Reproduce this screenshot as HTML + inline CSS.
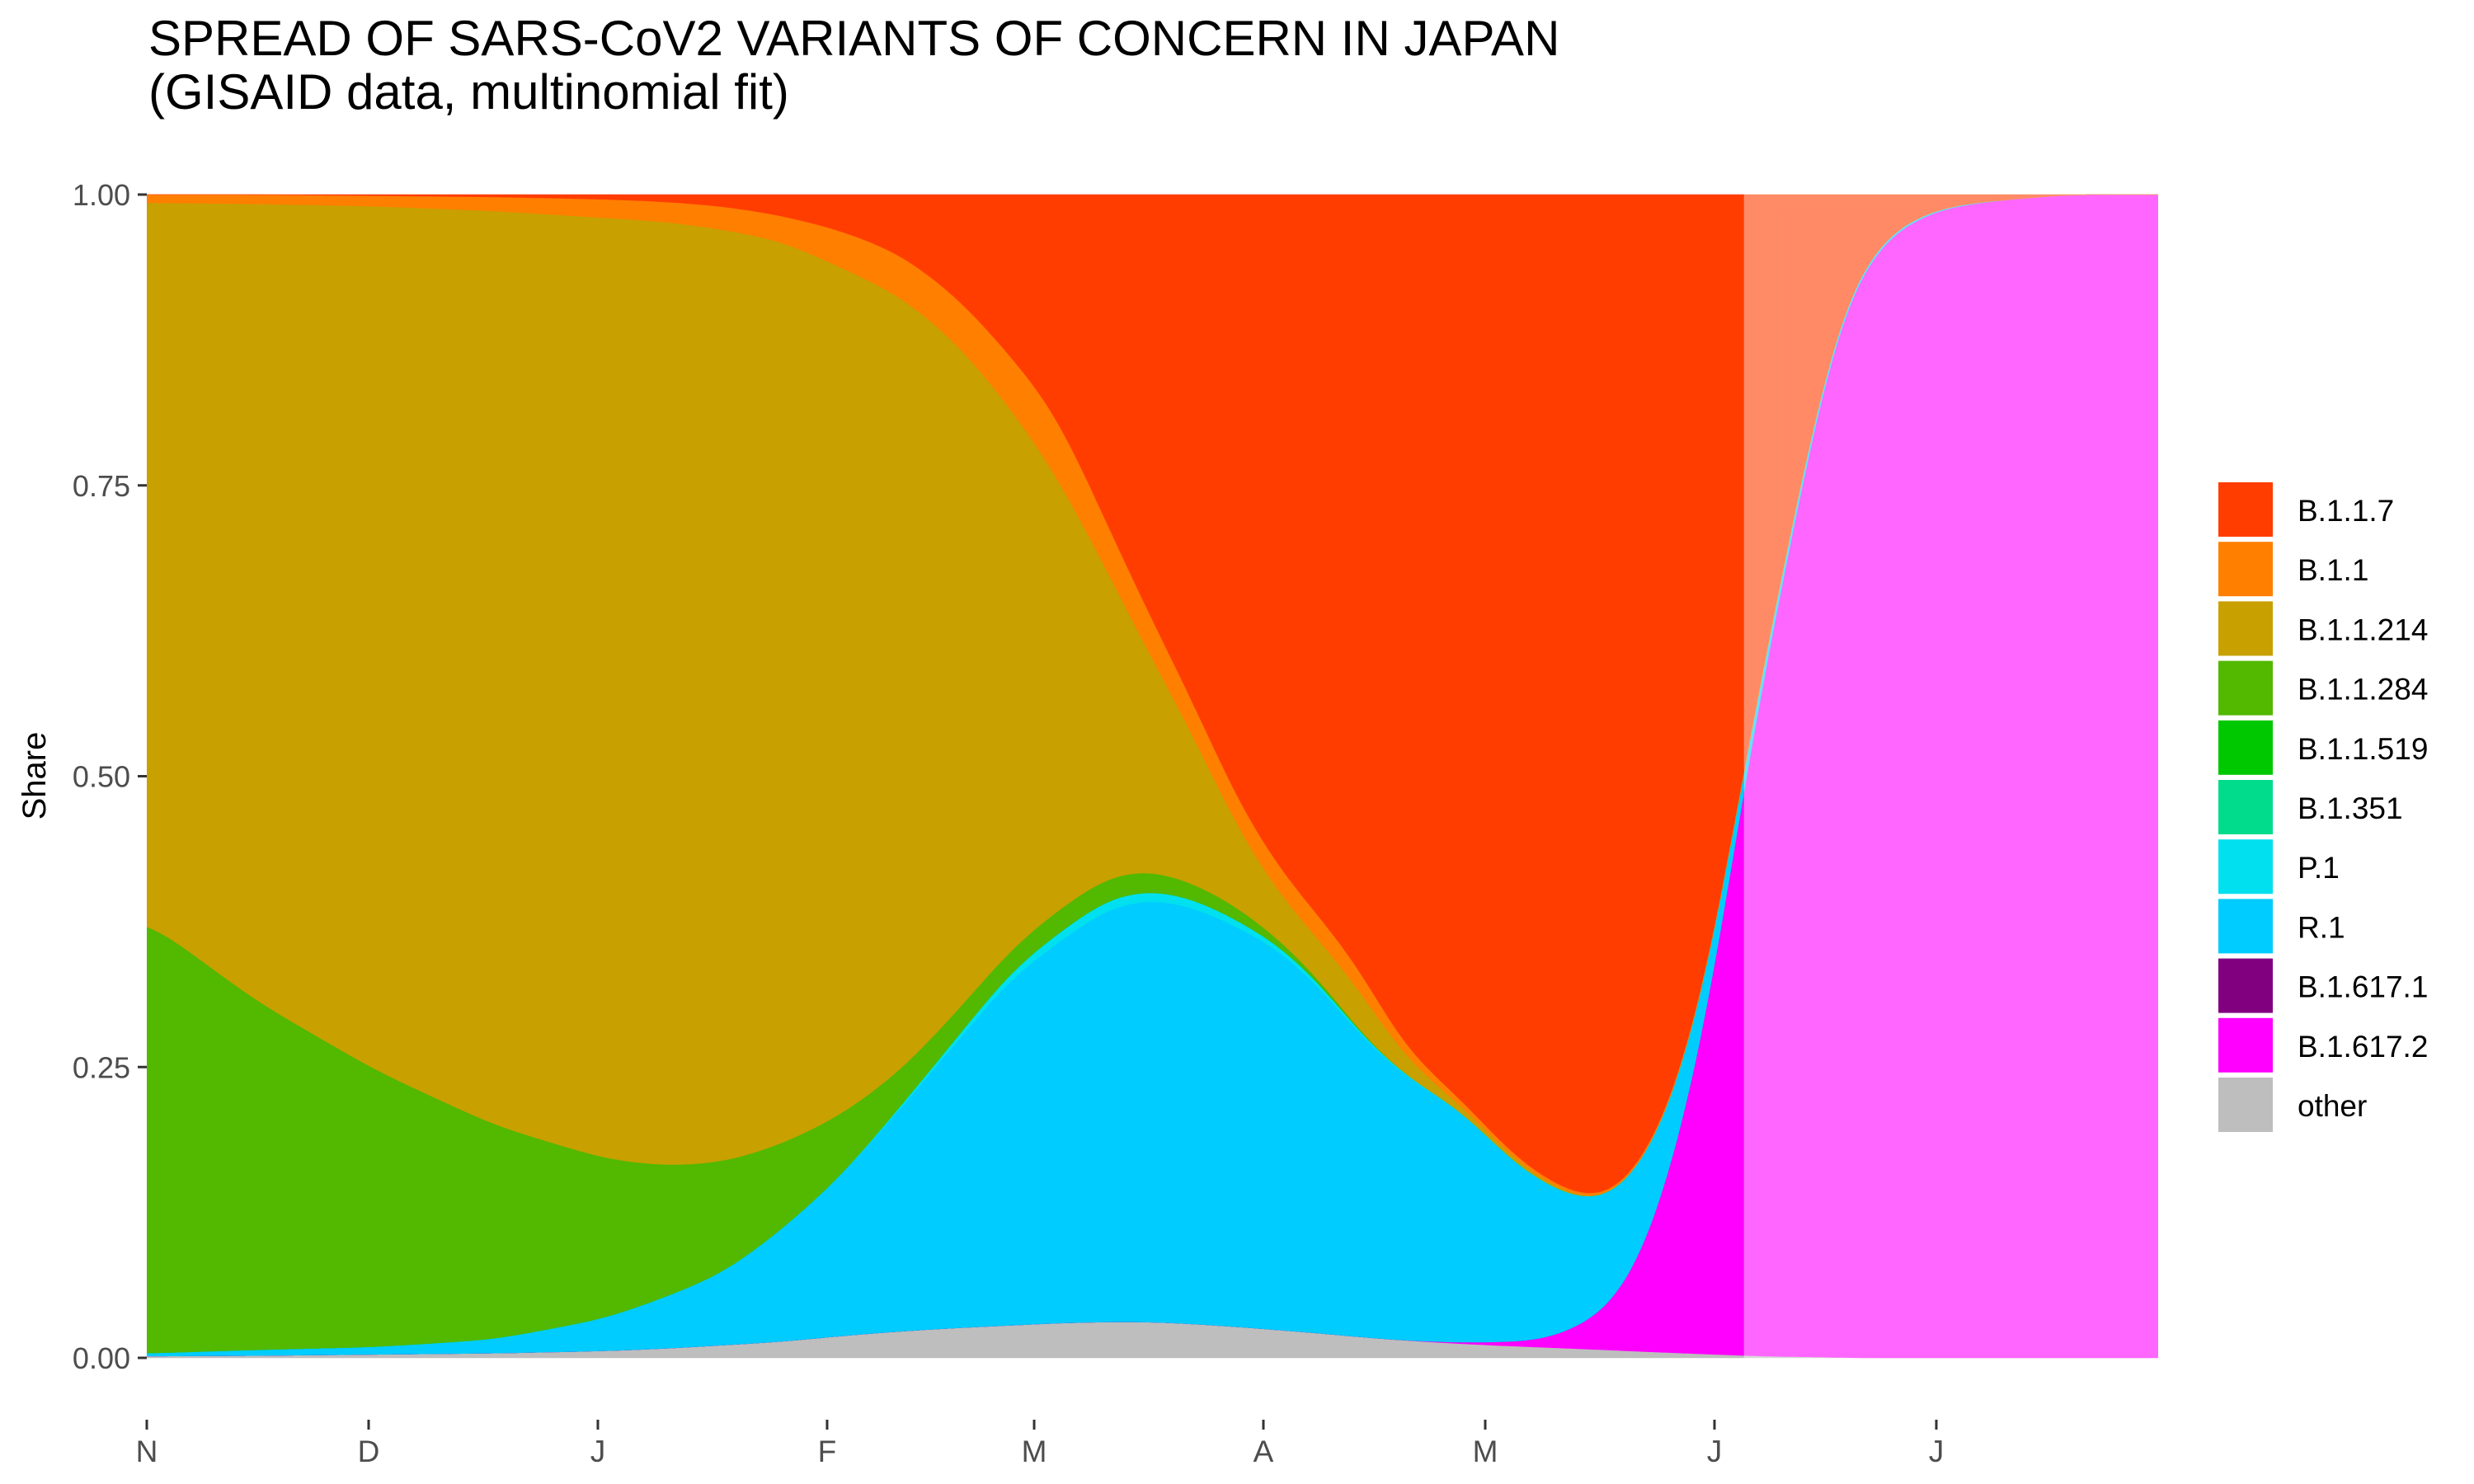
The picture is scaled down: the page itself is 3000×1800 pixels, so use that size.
<!DOCTYPE html>
<html><head><meta charset="utf-8">
<style>
html,body{margin:0;padding:0;background:#fff;}
svg{display:block;font-family:"Liberation Sans",Arial,sans-serif;}
</style></head>
<body>
<svg id="chart" width="3000" height="1800" viewBox="0 0 3000 1800">
  <text x="180" y="67" font-size="60" fill="#000">SPREAD OF SARS-CoV2 VARIANTS OF CONCERN IN JAPAN</text>
  <text x="180" y="132" font-size="60" fill="#000">(GISAID data, multinomial fit)</text>
  <text transform="translate(55,941) rotate(-90)" text-anchor="middle" font-size="40" fill="#000">Share</text>
  <g id="plot"></g>
  <g id="axes"></g>
  <g id="legend"></g>
</svg>
<script>
const days   = [0,15,31,47,62,70,78,86,94,102,110,117,123,130,136,142,147,153,159,164,170,178,185,189,193,197,200,204,208,212,216,221,226,230,236,243,252,260,272];
const seriesNames = ["B.1.1.7","B.1.1","B.1.1.214","B.1.1.284","B.1.1.519","B.1.351","P.1","R.1","B.1.617.1","B.1.617.2","other"];
const seriesColors = ["#FF3D00","#FF7F00","#C8A000","#52B800","#00C800","#00DC8C","#00E0EE","#00CCFF","#800080","#FF00FF","#BEBEBE"];
const vB117  = [0,0,0.001,0.002,0.004,0.006,0.010,0.018,0.031,0.051,0.090,0.140,0.187,0.285,0.367,0.442,0.516,0.579,0.624,0.664,0.734,0.779,0.828,0.845,0.86,0.864,0.851,0.815,0.748,0.643,0.488,0.328,0.175,0.078,0.029,0.01,0.004,0,0];
const vB11   = [0.007,0.008,0.009,0.012,0.016,0.017,0.020,0.022,0.032,0.036,0.040,0.045,0.053,0.040,0.033,0.028,0.024,0.022,0.020,0.019,0.008,0.005,0.003,0.003,0.002,0.002,0.002,0.002,0.002,0.002,0.002,0.002,0,0,0,0,0,0,0];
const vB11214= [0.617,0.686,0.743,0.786,0.809,0.812,0.802,0.776,0.728,0.666,0.569,0.462,0.376,0.26,0.18,0.123,0.07,0.038,0.033,0.037,0.015,0.004,0.003,0.002,0.001,0,0,0,0,0,0,0,0,0,0,0,0,0,0];
const vB11284= [0.372,0.299,0.2375,0.184,0.137,0.113,0.095,0.073,0.052,0.030,0.022,0.019,0.020,0.019,0.017,0.013,0.012,0.005,0.003,0.001,0,0,0,0,0,0,0,0,0,0,0,0,0,0,0,0,0,0,0];
const vB11519= [0,0,0,0,0,0,0,0,0,0,0,0,0,0,0,0,0,0,0,0,0,0,0,0,0,0,0,0,0,0,0,0,0,0,0,0,0,0,0];
const vB1351 = [0,0,0,0,0,0,0,0,0,0,0,0,0,0,0,0,0,0,0,0,0,0,0,0,0,0,0,0,0,0,0,0,0,0,0,0,0,0,0];
const vP1    = [0,0,0,0,0,0,0,0,0,0.002,0.004,0.006,0.008,0.008,0.008,0.007,0.006,0.004,0.003,0.002,0.001,0,0,0,0,0,0,0,0,0,0,0,0,0,0,0,0,0,0];
const vR1    = [0.0025,0.005,0.0065,0.012,0.028,0.044,0.062,0.097,0.138,0.192,0.249,0.300,0.326,0.357,0.364,0.358,0.345,0.328,0.296,0.259,0.227,0.199,0.152,0.135,0.112,0.096,0.088,0.07,0.045,0.035,0.01,0.01,0.005,0.003,0.002,0.001,0,0,0];
const vB16171= [0,0,0,0,0,0,0,0,0,0,0,0,0,0,0,0,0,0,0,0,0,0,0,0,0,0,0,0,0,0,0,0,0,0,0,0,0,0,0];
const vB16172= [0,0,0,0,0,0,0,0,0,0,0,0,0,0,0,0,0,0,0,0,0,0.001,0.004,0.006,0.017,0.031,0.053,0.108,0.201,0.317,0.498,0.659,0.819,0.919,0.969,0.989,0.996,1,1];
const vOther = [0.0015,0.002,0.003,0.004,0.006,0.008,0.011,0.014,0.019,0.023,0.026,0.028,0.030,0.031,0.031,0.029,0.027,0.024,0.021,0.018,0.015,0.012,0.010,0.009,0.008,0.007,0.006,0.005,0.004,0.003,0.002,0.001,0.001,0,0,0,0,0,0];
const fitEndDay = 216;
const yTicks = [0,0.25,0.5,0.75,1];
const yTickLabels = ["0.00","0.25","0.50","0.75","1.00"];
const xTickDays = [0,30,61,92,120,151,181,212,242];
const xTickLabels = ["N","D","J","F","M","A","M","J","J"];

const NS="http://www.w3.org/2000/svg";
const L=178,R=2617,T=236,B=1647,DMAX=272;
const xs=d=>L+d*(R-L)/DMAX;
const ys=v=>B-v*(B-T);
const allVals=[vB117,vB11,vB11214,vB11284,vB11519,vB1351,vP1,vR1,vB16171,vB16172,vOther];
const n=seriesNames.length;

const knotCum=[];
for(let k=0;k<n;k++)knotCum.push([]);
days.forEach((d,i)=>{
  let s=0;for(let k=0;k<n;k++)s+=allVals[k][i];
  s=s||1;let c=0;
  for(let k=n-1;k>=0;k--){c+=allVals[k][i]/s;knotCum[k].push(c);}
});
function lin(y,d){
  let i=0; while(i<days.length-2 && d>days[i+1]) i++;
  const t=Math.min(1,Math.max(0,(d-days[i])/(days[i+1]-days[i])));
  return y[i]+(y[i+1]-y[i])*t;
}
const STEP=0.5,SIG=3;
const grid=[];for(let d=0;d<=DMAX;d+=STEP)grid.push(d);
const kern=[];const KR=Math.ceil(3*SIG/STEP);
for(let j=-KR;j<=KR;j++)kern.push(Math.exp(-0.5*Math.pow(j*STEP/SIG,2)));
const smoothCum=knotCum.map(y=>{
  const raw=grid.map(d=>lin(y,d));
  return raw.map((_,i)=>{
    let s=0,w=0;
    for(let j=-KR;j<=KR;j++){
      const ii=Math.min(raw.length-1,Math.max(0,i+j));
      s+=raw[ii]*kern[j+KR];w+=kern[j+KR];
    }
    return s/w;
  });
});
const lower=[],upper=[];
for(let k=0;k<n;k++){lower.push([]);upper.push([]);}
grid.forEach((d,i)=>{
  let prev=0;
  for(let k=n-1;k>=0;k--){
    let u=Math.min(1,Math.max(prev,smoothCum[k][i]));
    if(k===0)u=1;
    lower[k].push(prev);upper[k].push(u);prev=u;
  }
});

const plot=document.getElementById('plot');
const defs=document.createElementNS(NS,'defs');
defs.innerHTML='<clipPath id="cl"><rect x="'+L+'" y="'+(T-5)+'" width="'+(xs(fitEndDay)-L)+'" height="'+(B-T+10)+'"/></clipPath><clipPath id="cr"><rect x="'+xs(fitEndDay)+'" y="'+(T-5)+'" width="'+(R-xs(fitEndDay))+'" height="'+(B-T+10)+'"/></clipPath>';
document.getElementById('chart').insertBefore(defs,plot);
['cl','cr'].forEach(cp=>{
  const g=document.createElementNS(NS,'g');
  g.setAttribute('clip-path','url(#'+cp+')');
  if(cp==='cr')g.setAttribute('opacity','0.6');
  
  
  for(let k=n-1;k>=0;k--){
    let dstr='M';
    grid.forEach((d,i)=>{dstr+=xs(d).toFixed(1)+','+ys(upper[k][i]).toFixed(1)+' L';});
    for(let i=grid.length-1;i>=0;i--){dstr+=xs(grid[i]).toFixed(1)+','+ys(lower[k][i]).toFixed(1)+(i?' L':' Z');}
    const p=document.createElementNS(NS,'path');
    p.setAttribute('d',dstr);p.setAttribute('fill',seriesColors[k]);
    p.setAttribute('stroke',seriesColors[k]);p.setAttribute('stroke-width','0.6');
    
    
    g.appendChild(p);
  }
  plot.appendChild(g);
});

const axes=document.getElementById('axes');
yTicks.forEach((v,i)=>{
  const y=ys(v);
  const ln=document.createElementNS(NS,'line');
  ln.setAttribute('x1',167);ln.setAttribute('x2',L);ln.setAttribute('y1',y);ln.setAttribute('y2',y);
  ln.setAttribute('stroke','#333');ln.setAttribute('stroke-width','3');
  
  
  axes.appendChild(ln);
  const t=document.createElementNS(NS,'text');
  t.setAttribute('x',158);t.setAttribute('y',y+13);t.setAttribute('text-anchor','end');
  t.setAttribute('font-size','36');t.setAttribute('fill','#4D4D4D');t.textContent=yTickLabels[i];
  
  
  axes.appendChild(t);
});
xTickDays.forEach((d,i)=>{
  const x=xs(d);
  const ln=document.createElementNS(NS,'line');
  ln.setAttribute('x1',x);ln.setAttribute('x2',x);ln.setAttribute('y1',1722);ln.setAttribute('y2',1734);
  ln.setAttribute('stroke','#333');ln.setAttribute('stroke-width','3');
  
  
  axes.appendChild(ln);
  const t=document.createElementNS(NS,'text');
  t.setAttribute('x',x);t.setAttribute('y',1773);t.setAttribute('text-anchor','middle');
  t.setAttribute('font-size','37');t.setAttribute('fill','#4D4D4D');t.textContent=xTickLabels[i];
  
  
  axes.appendChild(t);
});

const legend=document.getElementById('legend');
seriesNames.forEach((nm,i)=>{
  const y=585+i*72.2;
  const r=document.createElementNS(NS,'rect');
  r.setAttribute('x',2690);r.setAttribute('y',y);r.setAttribute('width',66);r.setAttribute('height',66);
  r.setAttribute('fill',seriesColors[i]);
  
  
  legend.appendChild(r);
  const t=document.createElementNS(NS,'text');
  t.setAttribute('x',2786);t.setAttribute('y',y+47);t.setAttribute('font-size','37');t.setAttribute('fill','#000');
  t.textContent=nm;
  
  
  legend.appendChild(t);
});
</script>
</body></html>
